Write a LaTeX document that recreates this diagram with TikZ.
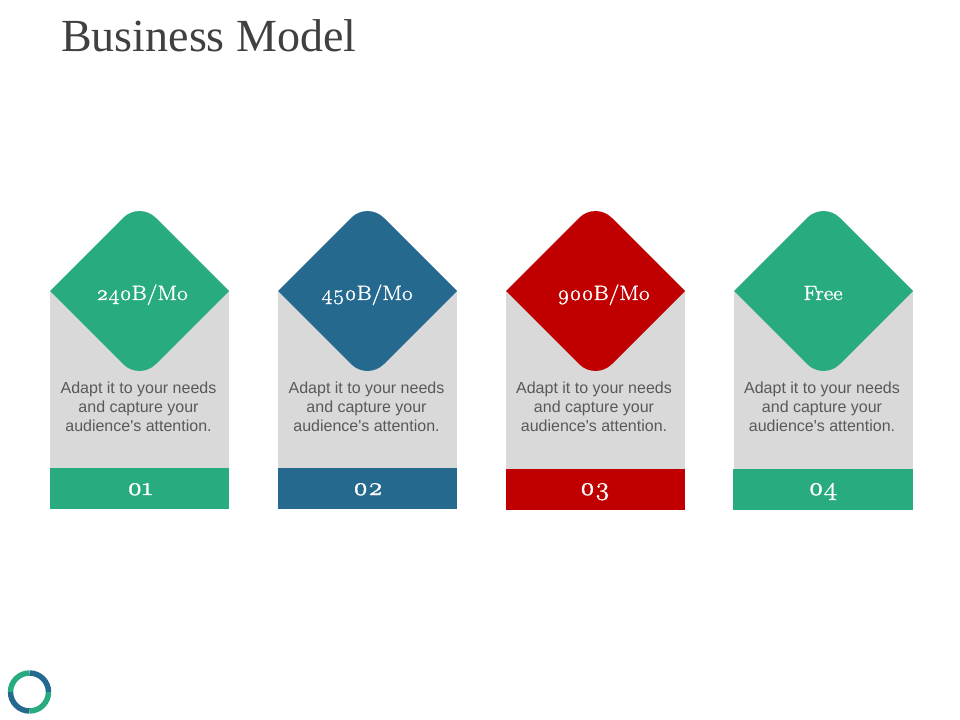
\documentclass[tikz,border=0pt]{standalone}
\usepackage{fontspec}
\setmainfont{Liberation Serif}
\newfontfamily\bodyfont{Liberation Sans}
\newfontfamily\numfont[Numbers=OldStyle,FakeStretch=1.12,FakeBold=1.5]{Latin Modern Roman}
\definecolor{cgreen}{HTML}{27AB7F}
\definecolor{cblue}{HTML}{26698F}
\definecolor{cred}{HTML}{C00000}
\definecolor{cgrey}{HTML}{D9D9D9}
\definecolor{ctitle}{HTML}{404040}
\definecolor{cbody}{HTML}{595959}
\tikzset{
  x=0.75pt,y=-0.75pt,
  titletext/.style={anchor=base west,inner sep=0pt,text=ctitle,font=\fontsize{34.5}{40}\selectfont},
  labeltext/.style={anchor=base,inner sep=0pt,text=white,font=\numfont\fontsize{15.5}{18}\selectfont},
  numtext/.style={anchor=base,inner sep=0pt,text=white,font=\numfont\fontsize{19}{22}\selectfont},
  bodytext/.style={inner sep=0pt,align=center,text=cbody,font=\bodyfont\fontsize{12}{14.2}\selectfont},
  ringarc/.style={line width=4.1pt},
}
% #1 id, #2 left of card, #3 colour, #4 label, #5 label centre x, #6 body centre x, #7 number, #8 number centre x, #9 banner top
\newcommand{\drawcard}[9]{%
  \fill[cgrey] (#2,291) rectangle (#2+179,#9);
  \fill[#3] (#2,291) -- (#2+73.2,217.8) .. controls (#2+82.2,208.8) and (#2+96.8,208.8) .. (#2+105.8,217.8)
     -- (#2+179,291) -- (#2+105.8,364.2) .. controls (#2+96.8,373.2) and (#2+82.2,373.2) .. (#2+73.2,364.2) -- cycle;
  \fill[#3] (#2,#9) rectangle (#2+179,#9+41);
  \node[labeltext] (label#1) at (#5,300) {#4};
  \node[bodytext] (body#1) at (#6,407) {Adapt it to your needs\\and capture your\\audience's attention.};
  \node[numtext] (num#1) at (#8,495) {#7};
}
\begin{document}
\begin{tikzpicture}
\useasboundingbox[fill=white] (0,0) rectangle (960,720);
\node[titletext] (title) at (61,51.5) {Business Model};
\drawcard{a}{50}{cgreen}{240B/Mo}{142}{138.5}{01}{140}{468}
\drawcard{b}{278}{cblue}{450B/Mo}{367}{366.5}{02}{368}{468}
\drawcard{c}{506}{cred}{900B/Mo}{603.5}{594}{03}{595}{469}
\drawcard{d}{734}{cgreen}{Free}{823}{822}{04}{823}{469}
\fill[cgreen] (733,469) rectangle (734.5,510);
\draw[ringarc,cblue] (29.5,673) arc[start angle=90,end angle=0,radius=14.25pt];
\draw[ringarc,cblue] (29.5,711) arc[start angle=270,end angle=180,radius=14.25pt];
\draw[ringarc,cgreen] (29.5,673) arc[start angle=90,end angle=180,radius=14.25pt];
\draw[ringarc,cgreen] (29.5,711) arc[start angle=270,end angle=360,radius=14.25pt];
\end{tikzpicture}
\end{document}
